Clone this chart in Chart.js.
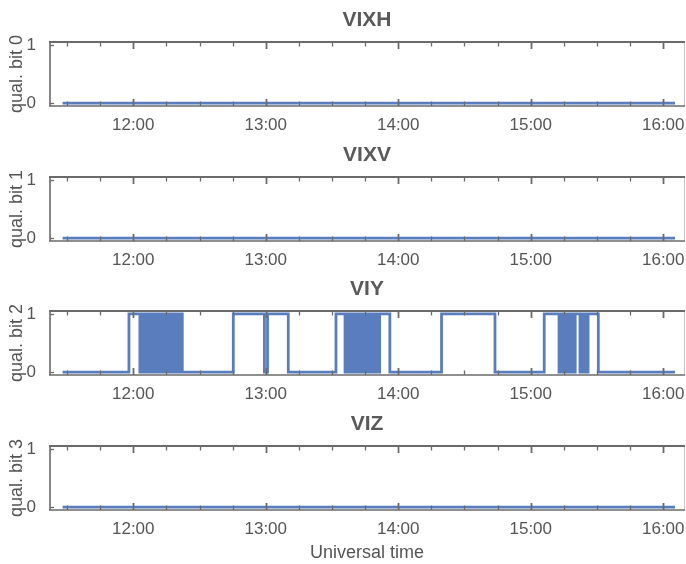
<!DOCTYPE html>
<html>
<head>
<meta charset="utf-8">
<script src="https://cdn.jsdelivr.net/npm/chart.js@4.4.1/dist/chart.umd.min.js"></script>
<style>
  html, body { margin: 0; padding: 0; background: #fff; }
  #wrap { position: relative; width: 686px; height: 564px; overflow: hidden; }
  #wrap canvas { position: absolute; left: 0; }
</style>
</head>
<body>
<div id="wrap"></div>
<script>
// ---- data -------------------------------------------------------------
const panelTitles = ["VIXH", "VIXV", "VIY", "VIZ"];
const yAxisLabels = ["qual. bit 0", "qual. bit 1", "qual. bit 2", "qual. bit 3"];
const xAxisLabel = "Universal time";

const timeRange = ["11:22:18", "16:09:24"];
const xTickTimes = ["11:30", "11:45", "12:00", "12:15", "12:30", "12:45", "13:00", "13:15",
                    "13:30", "13:45", "14:00", "14:15", "14:30", "14:45", "15:00", "15:15",
                    "15:30", "15:45", "16:00"];
const xTickLabels = ["12:00", "13:00", "14:00", "15:00", "16:00"];
const yTickValues = [0, 1];

// quality flag levels: [time, level], level held until the next entry
const vixhLevels = [["11:28:00", 0], ["16:05:20", 0]];
const vixvLevels = [["11:28:00", 0], ["16:05:20", 0]];
const vizLevels  = [["11:28:00", 0], ["16:05:20", 0]];
const viyLevels = [
  ["11:28:00", 0],
  ["11:58:03", 1],
  ["12:22:12", 0],
  ["12:45:18", 1],
  ["12:59:24", 0],
  ["13:00:48", 1],
  ["13:10:12", 0],
  ["13:31:48", 1],
  ["13:56:12", 0],
  ["14:19:36", 1],
  ["14:43:48", 0],
  ["15:06:06", 1],
  ["15:30:36", 0],
  ["16:05:20", 0]
];

// rapid flag toggling, one sample every BURST_STEP_S seconds
const BURST_STEP_S = 20;
const viyBursts = [
  { start: "12:03:00", bits: "0101101001011010110100101101011010100101101011010010110" },
  { start: "13:35:54", bits: "01011010010110101101001011010110100101011010010" },
  { start: "15:12:48", bits: "0101101001011010110100" },
  { start: "15:22:18", bits: "01011010010" }
];
const noBursts = [];

// ---- helpers ----------------------------------------------------------
function toMin(t) {
  const p = t.split(":").map(Number);
  return p[0] * 60 + p[1] + (p[2] || 0) / 60;
}

function buildSeries(levels, bursts) {
  const pts = levels.map(([t, v]) => ({ x: toMin(t), y: v }));
  bursts.forEach(b => {
    const t0 = toMin(b.start);
    [...b.bits].forEach((c, k) => pts.push({ x: t0 + k * BURST_STEP_S / 60, y: Number(c) }));
    pts.push({ x: t0 + b.bits.length * BURST_STEP_S / 60, y: 1 });
  });
  return pts.sort((a, b) => a.x - b.x);
}

const FONT = "'Liberation Sans', Arial, Helvetica, sans-serif";
const TEXT = "#555555";
const AXIS = "#6a6a6a";
const LINE = "#5a7ebd";

// frame around each plot with inward ticks on the top, bottom and left edges
const framePlugin = {
  id: "frame",
  afterDatasetsDraw(chart) {
    const { ctx, chartArea: a, scales: { x, y } } = chart;
    ctx.save();
    ctx.lineCap = "butt";
    // right edge (light)
    ctx.strokeStyle = "#c8c8c8";
    ctx.lineWidth = 1;
    ctx.beginPath(); ctx.moveTo(a.right + 0.5, a.top); ctx.lineTo(a.right + 0.5, a.bottom); ctx.stroke();
    // top, left, bottom edges
    ctx.strokeStyle = AXIS;
    ctx.lineWidth = 2;
    ctx.beginPath(); ctx.moveTo(a.left - 1, a.top); ctx.lineTo(a.right + 1, a.top); ctx.stroke();
    ctx.lineWidth = 1.6;
    ctx.beginPath(); ctx.moveTo(a.left, a.top); ctx.lineTo(a.left, a.bottom); ctx.stroke();
    ctx.beginPath(); ctx.moveTo(a.left - 1, a.bottom); ctx.lineTo(a.right + 1, a.bottom); ctx.stroke();
    // x ticks
    x.ticks.forEach(t => {
      const px = Math.round(x.getPixelForValue(t.value)) + 0.5;
      const major = Math.abs(t.value % 60) < 1e-6;
      const len = major ? 7 : 4.5;
      ctx.lineWidth = major ? 1.8 : 1.3;
      ctx.beginPath(); ctx.moveTo(px, a.top); ctx.lineTo(px, a.top + len); ctx.stroke();
      ctx.beginPath(); ctx.moveTo(px, a.bottom); ctx.lineTo(px, a.bottom - len); ctx.stroke();
    });
    // y ticks
    ctx.lineWidth = 1.3;
    y.ticks.forEach(t => {
      const py = Math.round(y.getPixelForValue(t.value)) + 0.5;
      ctx.beginPath(); ctx.moveTo(a.left, py); ctx.lineTo(a.left + 4, py); ctx.stroke();
    });
    ctx.restore();
  }
};

// ---- panels -----------------------------------------------------------
const panelSeries = [
  [vixhLevels, noBursts],
  [vixvLevels, noBursts],
  [viyLevels, viyBursts],
  [vizLevels, noBursts]
];
const panelTops = [0, 135, 269, 404];
const panelHeights = [135, 134, 135, 160];
const xAxisHeights = [29, 28, 29, 54];

const wrap = document.getElementById("wrap");

panelSeries.forEach(([levels, bursts], i) => {
  const canvas = document.createElement("canvas");
  canvas.width = 686;
  canvas.height = panelHeights[i];
  canvas.style.top = panelTops[i] + "px";
  wrap.appendChild(canvas);
  const last = i === panelSeries.length - 1;

  new Chart(canvas, {
    type: "line",
    data: {
      datasets: [{
        data: buildSeries(levels, bursts),
        stepped: true,
        borderColor: LINE,
        borderWidth: 2.8,
        pointRadius: 0,
        fill: false
      }]
    },
    options: {
      responsive: false,
      animation: false,
      devicePixelRatio: 1,
      events: [],
      layout: { padding: { left: 0, right: 2, top: 0, bottom: 0 } },
      plugins: {
        legend: { display: false },
        tooltip: { enabled: false },
        title: {
          display: true,
          fullSize: false,
          text: panelTitles[i],
          color: "#5a5a5a",
          font: { family: FONT, size: 21, weight: "bold" },
          padding: { top: 8, bottom: 8.8 }
        }
      },
      scales: {
        x: {
          type: "linear",
          min: toMin(timeRange[0]),
          max: toMin(timeRange[1]),
          grid: { display: false },
          border: { display: false },
          afterBuildTicks: s => { s.ticks = xTickTimes.map(t => ({ value: toMin(t) })); },
          afterFit: s => { s.height = xAxisHeights[i]; },
          ticks: {
            autoSkip: false,
            maxRotation: 0,
            padding: 1,
            color: TEXT,
            font: { family: FONT, size: 17 },
            callback: v => {
              const h = Math.floor(v / 60), m = Math.round(v - h * 60);
              const s = String(h).padStart(2, "0") + ":" + String(m).padStart(2, "0");
              return xTickLabels.includes(s) ? s : "";
            }
          },
          title: {
            display: last,
            text: xAxisLabel,
            color: TEXT,
            font: { family: FONT, size: 18 },
            padding: { top: 0, bottom: 0 }
          }
        },
        y: {
          min: -0.05,
          max: 1.05,
          grid: { display: false },
          border: { display: false },
          afterBuildTicks: s => { s.ticks = yTickValues.map(v => ({ value: v })); },
          afterFit: s => { s.width = 50; },
          ticks: {
            padding: 6,
            color: TEXT,
            font: { family: FONT, size: 17 },
            callback: v => String(v)
          },
          title: {
            display: true,
            text: yAxisLabels[i],
            color: TEXT,
            font: { family: FONT, size: 18 },
            padding: { top: 6.5, bottom: 0 }
          }
        }
      }
    },
    plugins: [framePlugin]
  });
});
</script>
</body>
</html>
